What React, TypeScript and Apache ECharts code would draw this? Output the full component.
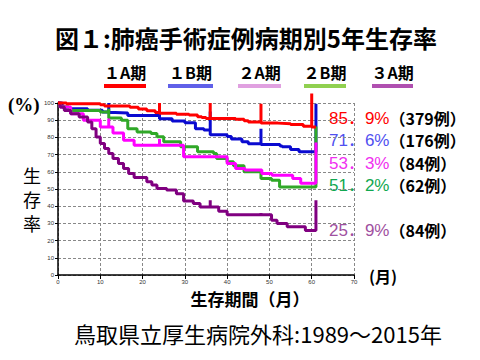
import React, { useEffect, useRef } from "react";
import * as echarts from "echarts";

// Kaplan–Meier curves: [month, survival %]; repeated months draw vertical marks
const stage1A: number[][] = [
  [0, 100], [2, 99.5], [10, 99], [11, 98.3], [17, 97.5], [19, 96.5], [21, 95.5], [23, 94.5],
  [24, 94], [24, 100], [24, 94], [28, 93.5], [31, 93], [33, 92], [34, 91.5], [35, 91],
  [36, 91], [36, 100], [36, 91], [42, 90.5], [44, 89.7], [45, 89], [48, 88.3], [48, 99.6],
  [48, 88.3], [52, 88], [55, 87.5], [58, 86.5], [60, 86], [60, 105.5], [60, 86], [61, 85.9],
];
const stage1B: number[][] = [
  [0, 100], [1, 97.5], [2, 96.7], [7, 95.8], [10.5, 94.8], [12, 94.5], [12, 100], [12, 94.5],
  [13.5, 94.2], [16.5, 92.7], [24, 90.8], [24, 97], [24, 90.8], [27, 89.5], [30, 88.5],
  [32.5, 85], [34.5, 84.3], [36, 81.5], [36, 95], [36, 81.5], [40, 80.5], [41, 79], [43.5, 77.5],
  [45, 76.3], [48, 75.8], [48, 85], [48, 75.8], [52.5, 75], [53, 74.5], [55, 73], [57, 71.6],
  [61, 71.6], [61, 99.6],
];
const stage2B: number[][] = [
  [0, 100], [0.5, 97.8], [2.5, 95.7], [10, 94.8], [12, 91.3], [12, 96.7], [12, 91.3], [15, 90],
  [16.5, 85.1], [18.7, 83.2], [22, 82.3], [23.4, 80.4], [25, 77.5], [29, 74.5], [33, 71.6],
  [36.8, 70.6], [37.5, 67.7], [40, 65.8], [41.5, 63.5], [44, 60], [48, 56.1], [50.5, 55.1],
  [52.4, 51.2], [61, 51.2], [61, 86.3],
];
const stage2A: number[][] = [
  [0, 100], [0.5, 97.7], [3, 93.8], [6, 90], [10, 86.1], [12, 86.1], [12, 91], [12, 86.1],
  [13, 82.6], [15.5, 78.4], [18, 75.5], [24, 75.5], [24, 79], [24, 75.5], [29.7, 68.7],
  [40, 64.8], [42, 61.9], [44.2, 61], [48.2, 59], [50.6, 58], [55.5, 56.1], [57.4, 53.3],
  [61, 53.3], [61, 77],
];
const stage3A: number[][] = [
  [0, 100], [0.5, 97.7], [1.5, 95.7], [3, 93.8], [5, 91.9], [7, 89], [8, 85.1], [9, 80.3],
  [10, 76.4], [11, 73.5], [12, 70.6], [13, 67.7], [14.3, 64.8], [15.5, 61.9], [16.7, 59],
  [18, 56.7], [21, 54.2], [22.2, 52.3], [23.4, 50.3], [25.7, 49.4], [28, 47.2], [29.7, 43],
  [32, 41.6], [33.6, 39.6], [36, 39.6], [36, 43.5], [36, 39.6], [38, 37], [40, 35], [48, 35],
  [48, 36], [48, 35], [50.5, 31.9], [51.8, 30], [54.2, 28], [58.5, 25.9], [61, 25.9], [61, 43.5],
];

const legendNames = ["１A期", "１B期", "２A期", "２B期", "３A期"];
const rateLabels = ["85．9%", "71．6%", "53．3%", "51．2%", "25．9%"];
const caseLabels = ["（379例）", "（176例）", "（84例）", "（62例）", "（84例）"];
const yTitleChars = ["生", "存", "率"];

const JP = "'Noto Sans CJK JP', sans-serif";

export default function App() {
  const ref = useRef<HTMLDivElement>(null);
  useEffect(() => {
    if (!ref.current) return;
    const chart = echarts.init(ref.current, null, { renderer: "svg" });

    const legendX = [104, 168, 238, 304, 372];
    const legendW = [42, 45, 43, 42, 41];
    const legendLine = ["#ff0000", "#6060e8", "#e0a0e0", "#90d050", "#b050b0"];
    const rateColor = ["#ff0000", "#5050f0", "#f030f0", "#10a850", "#a050a0"];
    const rateY = [118, 140, 163, 185, 230];

    const graphics: any[] = [
      {
        type: "text", x: 246, y: 37,
        style: { text: "図１:肺癌手術症例病期別5年生存率", font: `bold 24px ${JP}`, fill: "#000", align: "center", verticalAlign: "middle" },
      },
      {
        type: "text", x: 8, y: 104,
        style: { text: "(%)", font: "bold 19px 'Liberation Serif', serif", fill: "#000", verticalAlign: "middle" },
      },
      ...yTitleChars.map((c, i) => ({
        type: "text", x: 32, y: 175 + i * 24,
        style: { text: c, font: `18px ${JP}`, lineHeight: 18, fill: "#000", align: "center", verticalAlign: "middle" },
      })),
      {
        type: "text", x: 369, y: 276,
        style: { text: "(月)", font: `bold 16px ${JP}`, fill: "#000", verticalAlign: "middle" },
      },
      {
        type: "text", x: 250, y: 298,
        style: { text: "生存期間（月）", font: `bold 17px ${JP}`, fill: "#000", align: "center", verticalAlign: "middle" },
      },
      {
        type: "text", x: 258, y: 333,
        style: { text: "鳥取県立厚生病院外科:1989～2015年", font: `22px ${JP}`, fill: "#000", align: "center", verticalAlign: "middle" },
      },
    ];
    legendNames.forEach((n, i) => {
      graphics.push({
        type: "text", x: legendX[i] + legendW[i] / 2, y: 72,
        style: { text: n, font: `bold 16px ${JP}`, fill: "#000", align: "center", verticalAlign: "middle" },
      });
      graphics.push({
        type: "rect", shape: { x: legendX[i], y: 84, width: legendW[i], height: 4 },
        style: { fill: legendLine[i] },
      });
    });
    rateLabels.forEach((r, i) => {
      graphics.push({
        type: "text", x: 329, y: rateY[i],
        style: {
          text: `{a|${r}}{b|${caseLabels[i]}}`,
          verticalAlign: "middle",
          rich: {
            a: { fontSize: 17, lineHeight: 17, fontFamily: `'Liberation Sans', ${JP}`, fill: rateColor[i], color: rateColor[i] },
            b: { fontSize: 16, lineHeight: 17, fontWeight: "bold", fontFamily: JP, fill: "#000", color: "#000" },
          },
        },
      });
    });

    const mk = (data: number[][], color: string, z: number) => ({
      type: "line", data, step: "end", symbol: "none", clip: false, z,
      lineStyle: { color, width: 3 }, itemStyle: { color },
    });

    chart.setOption({
      animation: false,
      grid: { left: 58, right: 126, top: 103, bottom: 85 },
      xAxis: {
        type: "value", min: 0, max: 70, interval: 10,
        axisLine: { show: true, lineStyle: { color: "#000", width: 1.5 } },
        axisTick: { show: true, length: 4, lineStyle: { color: "#000" } },
        axisLabel: { fontSize: 6, color: "#333", margin: 4 },
        splitLine: { show: true, lineStyle: { color: "#888", type: [3, 2] } },
      },
      yAxis: {
        type: "value", min: 0, max: 100, interval: 10,
        axisLine: { show: true, lineStyle: { color: "#000", width: 1.5 } },
        axisTick: { show: true, length: 3, lineStyle: { color: "#000" } },
        axisLabel: { fontSize: 6, color: "#333", margin: 4 },
        splitLine: { show: true, lineStyle: { color: "#888", type: [3, 2] } },
      },
      series: [
        mk(stage1B, "#0a0ad0", 2),
        mk(stage2B, "#30a828", 3),
        mk(stage2A, "#ff00ff", 4),
        mk(stage3A, "#800080", 5),
        mk(stage1A, "#ff0000", 6),
      ],
      graphic: graphics,
    });
    return () => chart.dispose();
  }, []);
  return <div ref={ref} style={{ width: 480, height: 360, position: "absolute", left: 0, top: 0, background: "#fff" }} />;
}
